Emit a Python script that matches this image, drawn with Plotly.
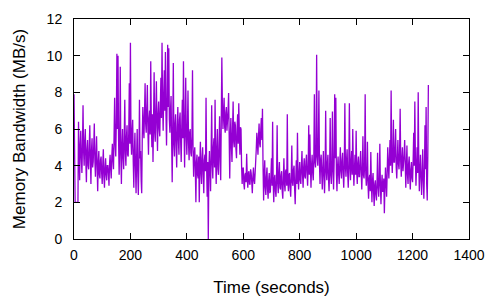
import plotly.graph_objects as go

# sample times (seconds), one value every 2 s
t_start = 0
t_step = 2

bandwidth = [
    7.9, 3.0, 2.0, 2.0, 2.0, 2.0, 2.0, 2.0, 6.4, 4.3, 3.2, 5.1, 5.9, 4.4, 3.6, 5.0, 7.3, 4.8, 4.0, 5.3,
    6.0, 4.2, 3.1, 4.9, 5.4, 4.0, 3.8, 5.0, 6.2, 4.4, 3.0, 4.8, 5.5, 3.9, 4.2, 5.1, 6.3, 4.3, 3.4, 4.6,
    5.6, 3.9, 2.6, 4.2, 4.8, 3.5, 3.3, 4.3, 4.5, 3.6, 3.0, 4.1, 4.9, 3.4, 2.8, 3.9, 4.4, 3.5, 3.2, 4.0,
    4.0, 3.6, 2.9, 4.1, 4.6, 3.8, 3.3, 4.5, 5.2, 4.3, 3.8, 5.6, 7.7, 5.2, 4.5, 6.4, 10.1, 6.0, 10.0, 5.4,
    3.5, 5.2, 9.4, 4.6, 3.0, 5.1, 6.0, 4.4, 3.8, 5.5, 7.6, 4.7, 4.0, 5.6, 6.2, 4.6, 4.5, 5.8, 8.5, 5.2,
    10.7, 5.5, 4.6, 5.9, 6.5, 4.2, 2.8, 4.8, 5.8, 3.9, 2.5, 4.5, 6.0, 3.6, 2.4, 4.2, 7.6, 4.4, 4.8, 3.2,
    2.5, 5.6, 7.2, 6.0, 5.5, 7.0, 8.5, 6.3, 5.8, 7.1, 8.4, 5.9, 4.6, 6.6, 7.0, 5.7, 9.7, 6.4, 5.0, 6.8,
    4.2, 6.5, 9.1, 5.8, 5.3, 7.0, 8.6, 6.2, 4.8, 6.8, 7.5, 6.0, 5.6, 7.3, 8.8, 6.6, 10.7, 7.4, 5.9, 7.8,
    9.2, 7.0, 10.2, 6.8, 5.1, 7.5, 10.6, 7.2, 10.4, 6.5, 5.8, 7.0, 7.8, 5.4, 3.1, 5.9, 9.6, 5.2, 4.5, 6.3,
    6.8, 5.0, 3.9, 6.1, 7.2, 5.4, 4.6, 6.5, 6.9, 5.3, 4.2, 6.2, 7.6, 5.5, 9.7, 6.0, 3.9, 6.4, 8.8, 5.6,
    4.6, 6.0, 8.1, 5.2, 4.3, 5.8, 6.0, 4.7, 4.5, 5.6, 9.2, 4.9, 3.4, 4.6, 5.0, 3.8, 2.0, 4.2, 4.6, 3.5,
    3.3, 4.5, 2.0, 4.1, 5.3, 3.6, 3.0, 4.4, 5.0, 3.5, 2.5, 4.3, 4.6, 3.7, 7.7, 4.0, 2.3, 4.2, 0.0, 3.8,
    4.8, 3.7, 2.6, 4.6, 7.3, 4.1, 3.3, 5.0, 5.5, 3.9, 7.6, 4.4, 3.0, 4.9, 6.0, 3.8, 3.5, 5.1, 6.7, 4.3,
    3.2, 6.5, 9.9, 7.2, 6.0, 7.0, 7.7, 6.1, 5.8, 6.9, 7.2, 5.9, 6.3, 7.0, 7.96, 5.1, 3.3, 5.6, 6.6, 5.0,
    4.2, 6.0, 7.5, 5.3, 5.0, 6.4, 6.2, 4.9, 4.4, 6.0, 6.8, 5.2, 7.4, 5.8, 4.6, 6.1, 6.0, 4.0, 3.0, 3.8,
    3.9, 3.0, 2.7, 3.5, 3.6, 3.1, 4.65, 3.4, 2.8, 3.6, 3.7, 3.0, 3.0, 3.8, 3.6, 3.1, 2.5, 3.4, 3.9, 3.2,
    3.0, 3.6, 4.0, 4.9, 5.8, 5.1, 4.6, 5.6, 6.3, 5.2, 5.0, 6.0, 6.6, 5.4, 7.1, 4.0, 2.1, 3.4, 4.3, 2.8,
    2.4, 3.4, 3.9, 2.7, 2.2, 3.2, 3.6, 2.5, 2.6, 3.5, 4.4, 2.9, 6.4, 3.1, 2.0, 3.3, 3.5, 2.6, 2.3, 3.4,
    6.2, 3.0, 2.5, 3.6, 4.2, 2.8, 2.7, 3.5, 3.7, 2.6, 2.2, 3.3, 4.4, 3.0, 2.6, 3.7, 3.8, 2.9, 6.8, 3.2,
    2.6, 3.5, 3.6, 2.8, 2.3, 3.4, 5.1, 3.1, 2.9, 3.8, 4.0, 2.7, 1.9, 3.3, 4.3, 3.0, 5.8, 3.4, 2.7, 3.6,
    4.2, 3.2, 3.0, 4.0, 4.8, 3.5, 2.8, 3.9, 4.4, 3.4, 3.3, 4.2, 4.6, 3.6, 2.9, 4.0, 6.2, 3.5, 5.7, 3.9,
    2.8, 4.0, 4.6, 3.6, 3.2, 4.4, 7.9, 4.2, 3.9, 4.7, 10.05, 4.5, 4.0, 5.0, 8.1, 4.1, 3.0, 4.3, 4.6, 3.6,
    2.7, 3.9, 4.8, 3.4, 2.5, 3.7, 7.0, 3.8, 3.2, 4.1, 4.6, 3.3, 2.6, 3.8, 6.6, 3.5, 3.0, 4.0, 6.95, 3.7,
    2.7, 4.2, 7.9, 4.4, 7.7, 3.6, 2.6, 3.9, 4.5, 3.5, 3.0, 4.1, 5.0, 3.7, 3.3, 4.3, 4.7, 3.6, 2.8, 3.9,
    7.4, 4.0, 3.4, 4.3, 4.9, 3.6, 2.8, 3.9, 7.4, 4.1, 3.2, 4.2, 4.8, 3.5, 6.0, 4.0, 2.9, 3.8, 4.6, 3.5,
    5.9, 3.7, 3.0, 4.1, 4.5, 3.4, 3.4, 4.2, 4.8, 3.6, 2.7, 3.8, 5.6, 3.5, 3.3, 4.0, 7.9, 3.6, 2.9, 3.4,
    5.3, 3.0, 2.2, 3.3, 3.5, 2.6, 4.75, 3.1, 2.0, 3.2, 3.6, 2.5, 1.8, 3.0, 3.2, 2.4, 2.1, 3.1, 4.7, 2.8,
    2.3, 3.2, 5.2, 2.9, 1.9, 3.0, 3.5, 2.6, 2.6, 3.3, 1.4, 2.8, 3.9, 3.1, 2.3, 3.6, 5.0, 4.0, 3.3, 4.4,
    5.4, 4.0, 8.1, 4.5, 3.6, 4.6, 6.5, 4.2, 4.2, 5.0, 6.0, 3.9, 3.3, 4.4, 5.4, 4.1, 3.8, 4.7, 7.1, 4.2,
    3.4, 4.4, 5.0, 3.7, 4.0, 4.6, 5.4, 3.6, 2.8, 4.0, 5.1, 3.5, 3.0, 4.1, 4.5, 3.4, 2.7, 3.8, 4.2, 3.3,
    3.1, 4.3, 5.8, 4.0, 7.5, 4.4, 2.9, 3.9, 5.0, 3.6, 8.0, 4.2, 2.6, 3.7, 4.6, 3.4, 2.4, 3.5, 4.9, 3.3,
    2.2, 3.6, 6.2, 3.8, 7.2, 3.0, 2.1, 4.5, 8.4,
]
times = [t_start + i * t_step for i in range(len(bandwidth))]

x_ticks = [0, 200, 400, 600, 800, 1000, 1200, 1400]
y_ticks = [0, 2, 4, 6, 8, 10, 12]

fig = go.Figure()
fig.add_trace(go.Scatter(
    x=times, y=bandwidth, mode="lines",
    line=dict(color="#9400D3", width=1.3),
    showlegend=False,
))

font_family = "Liberation Sans, Arial, sans-serif"
axis_common = dict(
    showgrid=False, zeroline=False, automargin=False,
    showline=True, linecolor="black", linewidth=1,
    mirror="ticks", ticks="inside", ticklen=6, tickcolor="black",
    tickfont=dict(family=font_family, size=14, color="black"),
)

# page body has an 8px margin, so the figure is 492x292 and offset by 8px
fig.update_layout(
    width=492, height=292,
    margin=dict(l=66, r=31, t=11, b=61),
    paper_bgcolor="white", plot_bgcolor="white",
    font=dict(family=font_family, size=14, color="black"),
    xaxis=dict(range=[0, 1400], tickvals=x_ticks, ticklabelstandoff=3,
               title=dict(text="Time (seconds)", standoff=19), **axis_common),
    yaxis=dict(range=[0, 12], tickvals=y_ticks, ticklabelstandoff=8,
               title=dict(text="Memory Bandwidth (MB/s)", standoff=16), **axis_common),
)

fig.write_html("out.html")
